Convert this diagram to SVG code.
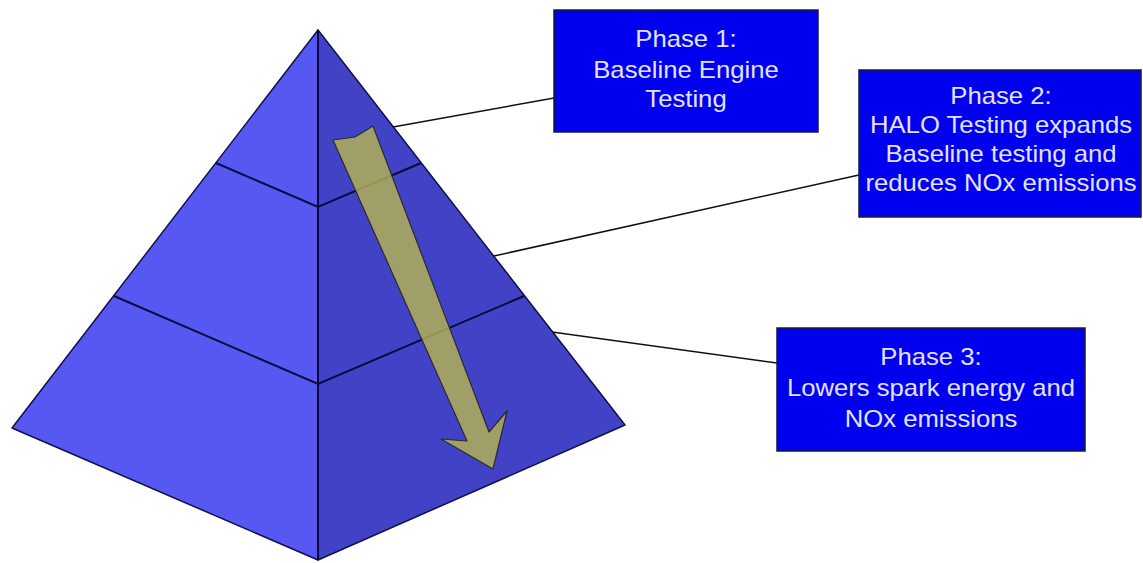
<svg xmlns="http://www.w3.org/2000/svg" width="1143" height="563" viewBox="0 0 1143 563">
  <style>
    .face-l { fill: #5757f2; stroke: #10104a; stroke-width: 1.5; stroke-linejoin: round; }
    .face-r { fill: #4242c6; stroke: #10104a; stroke-width: 1.5; stroke-linejoin: round; }
    .tier { fill: none; stroke: #0a0a40; stroke-width: 2; }
    .box { fill: #0000ee; stroke: #1a1a3a; stroke-width: 1.5; }
    .lbl { font-family: "Liberation Sans", Arial, sans-serif; font-size: 24px; fill: #e2e2ff; text-anchor: middle; }
    .conn { stroke: #111; stroke-width: 1.5; fill: none; }
    .arrow { fill: #b8b650; fill-opacity: 0.8; stroke: #2a2a30; stroke-width: 1.2; stroke-linejoin: round; }
  </style>

  <!-- pyramid body -->
  <g id="pyramid">
    <polygon class="face-l" points="318,30 12,428 318,560"/>
    <polygon class="face-r" points="318,30 625,425 318,560"/>
    <line class="tier" x1="318" y1="30" x2="318" y2="560"/>
    <polyline class="tier" points="216,163 318,207 421,163"/>
    <polyline class="tier" points="114,296 318,384 524,296"/>
  </g>

  <!-- direction arrow across the tiers -->
  <g id="arrow">
    <polygon class="arrow" points="333,140 355,137 373,126 489,432 507,411 493,469 441,439 467,441"/>
  </g>

  <!-- leader lines -->
  <g id="connectors">
    <line class="conn" x1="393" y1="127" x2="554" y2="98"/>
    <line class="conn" x1="494" y1="256" x2="859" y2="175"/>
    <line class="conn" x1="552" y1="332" x2="777" y2="363"/>
  </g>

  <g id="phase1">
    <rect class="box" x="554" y="10" width="264" height="122"/>
    <g transform="translate(686,0) scale(1.07,1)">
      <text class="lbl" x="0" y="47">Phase 1:</text>
      <text class="lbl" x="0" y="78">Baseline Engine</text>
      <text class="lbl" x="0" y="107">Testing</text>
    </g>
  </g>

  <g id="phase2">
    <rect class="box" x="859" y="70" width="282" height="147"/>
    <g transform="translate(1001,0) scale(1.07,1)">
      <text class="lbl" x="0" y="104">Phase 2:</text>
      <text class="lbl" x="0" y="133">HALO Testing expands</text>
      <text class="lbl" x="0" y="162">Baseline testing and</text>
      <text class="lbl" x="0" y="191">reduces NOx emissions</text>
    </g>
  </g>

  <g id="phase3">
    <rect class="box" x="777" y="328" width="308" height="123"/>
    <g transform="translate(931,0) scale(1.07,1)">
      <text class="lbl" x="0" y="365">Phase 3:</text>
      <text class="lbl" x="0" y="396">Lowers spark energy and</text>
      <text class="lbl" x="0" y="427">NOx emissions</text>
    </g>
  </g>
</svg>
